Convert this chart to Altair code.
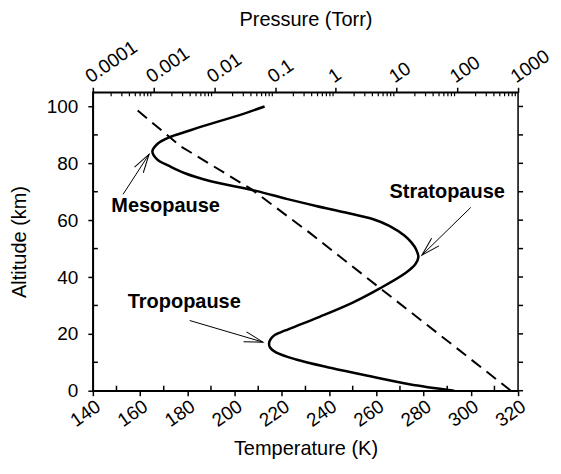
import math
import altair as alt
import pandas as pd

# ---------------- data ----------------
# temperature profile (altitude km, temperature K)
temp_alt = [0, 2.3, 5, 8, 11, 13.5, 15.2, 16.7, 18.2, 19.6, 21.2, 23.5, 26, 31, 36,
            41.5, 44.5, 47, 49.8, 52, 54.5, 58, 60.4, 62.7, 65, 67.5, 70.3, 73.8,
            76.5, 79, 81.4, 84.2, 86.8, 89.2, 91, 93.1, 96.6, 100]
temp_k = [293, 274, 258, 241, 226, 217.5, 215, 214.6, 215.3, 217, 221.5, 228.5, 236, 250, 261.5,
          272.5, 276.5, 277.8, 276.8, 275, 272, 265.5, 258.4, 247, 234.5, 222, 209, 189.5,
          179, 172.5, 167.2, 165.2, 167.3, 172.5, 179, 186.6, 200.7, 212.7]

# pressure profile (altitude km, pressure Torr)
press_alt = [0, 15.3, 35.8, 55.7, 70.9, 86, 100]
press_torr = [760, 93.5, 5.55, 0.364, 0.0406, 0.00279, 0.000454]

# axis ticks
temp_ticks = list(range(140, 321, 20))
temp_minor = list(range(150, 320, 20))
alt_ticks = [0, 20, 40, 60, 80, 100]
alt_minor = [10, 30, 50, 70, 90]
alt_right = list(range(0, 101, 10))
press_ticks = [0.0001, 0.001, 0.01, 0.1, 1, 10, 100, 1000]
press_minor = [m * 10.0 ** e for e in range(-4, 3) for m in range(2, 10)]

# annotations
ann_names = ["Mesopause", "Stratopause", "Tropopause"]
ann_text_t = [170.8, 290.0, 178.7]
ann_text_alt = [64.9, 69.8, 31.1]
arrow_t0 = [152.8, 300.0, 181.0]
arrow_alt0 = [69.1, 64.5, 24.7]
arrow_t1 = [163.8, 279.3, 212.0]
arrow_alt1 = [83.2, 47.7, 17.1]

# ---------------- layout ----------------
W, H = 426, 299
T_DOM = [140, 320]
A_DOM = [0, 105]
P_DOM = [0.0001, 1000]
FONT = "Liberation Sans"

tscale = alt.Scale(domain=T_DOM, nice=False, zero=False)
ascale = alt.Scale(domain=A_DOM, nice=False, zero=False)
pscale = alt.Scale(type="log", domain=P_DOM, nice=False)

bottom_axis = alt.Axis(values=temp_ticks, title="Temperature (K)", labelAngle=-35,
                       labelAlign="right", labelBaseline="top", tickSize=5,
                       labelPadding=1, titlePadding=8, labelOverlap=False,
                       grid=False)
left_axis = alt.Axis(values=alt_ticks, title="Altitude (km)", tickSize=5,
                     labelPadding=10, titlePadding=17, grid=False)
top_axis = alt.Axis(values=press_ticks, title="Pressure (Torr)", orient="top",
                    format="~g", labelAngle=-35, labelAlign="left",
                    labelBaseline="bottom", tickSize=5, labelPadding=1,
                    titlePadding=8, labelOverlap=False, grid=False)

def xT(f):
    return alt.X(f, type="quantitative", scale=tscale, axis=bottom_axis)

def yA(f):
    return alt.Y(f, type="quantitative", scale=ascale, axis=left_axis)

def xP(f):
    return alt.X(f, type="quantitative", scale=pscale, axis=top_axis)

temp_df = pd.DataFrame({"alt": temp_alt, "T": temp_k})
press_df = pd.DataFrame({"alt": press_alt, "P": press_torr})

temp_line = alt.Chart(temp_df).mark_line(color="black", strokeWidth=2.5,
                                         interpolate="catmull-rom").encode(
    x=xT("T"), y=yA("alt"), order="alt:Q")

minor_b = alt.Chart(pd.DataFrame({"t": temp_minor})).mark_rule(
    color="black", strokeWidth=1.5).encode(x=xT("t"), y=alt.value(H), y2=alt.value(H - 5))

minor_l = alt.Chart(pd.DataFrame({"a": alt_minor})).mark_rule(
    color="black", strokeWidth=1.5).encode(y=yA("a"), x=alt.value(0), x2=alt.value(5))

right_t = alt.Chart(pd.DataFrame({"a": alt_right})).mark_rule(
    color="black", strokeWidth=1.5).encode(y=yA("a"), x=alt.value(W), x2=alt.value(W + 5))

ann_df = pd.DataFrame({"name": ann_names, "t": ann_text_t, "a": ann_text_alt})
ann_text = alt.Chart(ann_df).mark_text(font=FONT, fontSize=20, fontWeight="bold",
                                       color="black", align="center",
                                       baseline="middle").encode(
    x=xT("t"), y=yA("a"), text="name:N")

# arrow head orientation from the arrow direction in screen space
angles = []
for t0, a0, t1, a1 in zip(arrow_t0, arrow_alt0, arrow_t1, arrow_alt1):
    dx = (t1 - t0) * W / (T_DOM[1] - T_DOM[0])
    dy = -(a1 - a0) * H / (A_DOM[1] - A_DOM[0])
    angles.append(math.degrees(math.atan2(dx, -dy)) % 360)

arr_df = pd.DataFrame({"t0": arrow_t0, "a0": arrow_alt0, "t1": arrow_t1,
                       "a1": arrow_alt1, "ang": angles})
arrow_shaft = alt.Chart(arr_df).mark_rule(color="black", strokeWidth=1).encode(
    x=xT("t0"), y=yA("a0"), x2="t1:Q", y2="a1:Q")
arrow_head = alt.Chart(arr_df).mark_point(
    shape="M -0.28 1 L 0 0 L 0.28 1", filled=False, color="black",
    strokeWidth=1, size=1400, opacity=1).encode(
    x=xT("t1"), y=yA("a1"), angle=alt.Angle("ang:Q", scale=None))

press_line = alt.Chart(press_df).mark_line(color="black", strokeWidth=2,
                                           strokeDash=[12, 7]).encode(
    x=xP("P"), y=yA("alt"), order="alt:Q")

minor_t = alt.Chart(pd.DataFrame({"p": press_minor})).mark_rule(
    color="black", strokeWidth=1.2).encode(x=xP("p"), y=alt.value(0), y2=alt.value(4))

temp_group = alt.layer(temp_line, minor_b, minor_l, right_t, arrow_shaft, arrow_head, ann_text)
press_group = alt.layer(press_line, minor_t)

chart = alt.layer(temp_group, press_group).resolve_scale(x="independent").properties(
    width=W, height=H, padding={"left": 1, "top": 1, "right": 0, "bottom": 0}
).configure_view(stroke="black", strokeWidth=1.5).configure_axis(
    labelFont=FONT, titleFont=FONT, labelFontSize=19, titleFontSize=20,
    labelColor="black", titleColor="black", titleFontWeight="normal",
    domainColor="black", tickColor="black", domainWidth=1.5, tickWidth=1.5
)

chart.save("out.html", embed_options={"renderer": "svg", "actions": False})
